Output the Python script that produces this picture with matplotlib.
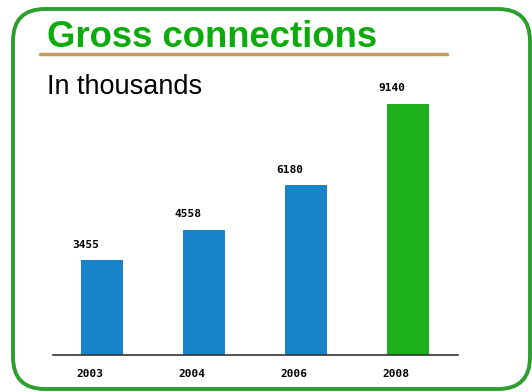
import matplotlib
matplotlib.use("Agg")
import matplotlib.pyplot as plt
from matplotlib.patches import FancyBboxPatch

years = ["2003", "2004", "2006", "2008"]
values = [3455, 4558, 6180, 9140]
bar_colors = ["#1784c8", "#1784c8", "#1784c8", "#1cb01c"]

fig = plt.figure(figsize=(5.32, 3.92), dpi=100)

# background layer in pixel units (frame, title, underline)
bg = fig.add_axes([0, 0, 1, 1])
bg.set_xlim(0, 532)
bg.set_ylim(392, 0)
bg.axis("off")

frame = FancyBboxPatch(
    (13, 9), 517, 380,
    boxstyle="round,pad=0,rounding_size=32",
    fc="white", ec="#2e9e2e", lw=2.8
)
bg.add_patch(frame)

bg.text(47, 37, "Gross connections", color="#0aab0a", fontsize=26.3,
        fontweight="bold", family="Liberation Sans", va="center", ha="left")
bg.plot([40, 447], [54, 54], color="#c89a5a", lw=2.5, solid_capstyle="round")
bg.text(47, 87, "In thousands", color="black", fontsize=19.5,
        family="Liberation Sans", va="center", ha="left")

# chart
ax = fig.add_axes([53 / 532, 37 / 392, 405 / 532, 275 / 392])
ax.patch.set_alpha(0)
x = list(range(len(years)))
bars = ax.bar(x, values, width=0.42, color=bar_colors)
for b, v in zip(bars, values):
    ax.text(b.get_x() + b.get_width() / 2 - 0.16, v + 380, str(v), ha="center",
            va="bottom", fontsize=8, fontweight="bold",
            family="DejaVu Sans Mono")

ax.set_xlim(-0.48, 3.49)
ax.set_ylim(0, 10000)
ax.set_xticks([i - 0.12 for i in x])
ax.set_xticklabels(years, fontsize=8, fontweight="bold",
                   family="DejaVu Sans Mono")
ax.tick_params(axis="x", length=0, pad=10)
ax.set_yticks([])
for s in ["top", "left", "right"]:
    ax.spines[s].set_visible(False)
ax.spines["bottom"].set_color("#333333")
ax.spines["bottom"].set_linewidth(1.2)

plt.savefig("out.png", dpi=100)
plt.close()
